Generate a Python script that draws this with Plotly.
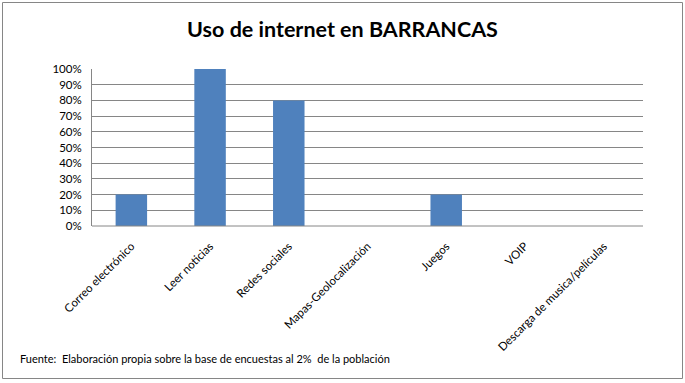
import plotly.graph_objects as go

categories = ["Correo electrónico", "Leer noticias", "Redes sociales", "Mapas-Geolocalización",
              "Juegos", "VOIP", "Descarga de musica/películas"]
values = [0.2, 1.0, 0.8, 0, 0.2, 0, 0]
tick_vals = [0, 0.1, 0.2, 0.3, 0.4, 0.5, 0.6, 0.7, 0.8, 0.9, 1.0]
tick_text = ["0%", "10%", "20%", "30%", "40%", "50%", "60%", "70%", "80%", "90%", "100%"]

W, H = 685, 383
L, R, T, B = 92, 643, 69, 226

fig = go.Figure(go.Bar(x=categories, y=values, marker=dict(color="#4F81BD", line=dict(width=0))))

def px(x):
    return (x - L) / (R - L)

def py(y):
    return (B - y) / (B - T)

fig.update_layout(
    width=W, height=H,
    margin=dict(l=L, r=W - R, t=T, b=H - B),
    paper_bgcolor="white", plot_bgcolor="white",
    font=dict(family="Lato, sans-serif", size=11.5, color="black"),
    bargap=0.6,
    showlegend=False,
    title=dict(text="<b>Uso de internet en BARRANCAS</b>", x=0.5, xanchor="center",
               y=1 - 29 / H, yanchor="middle",
               font=dict(family="Lato, sans-serif", size=21.5, color="black")),
    xaxis=dict(showgrid=False, showline=False, tickangle=-45, ticks="outside", ticklen=8,
               tickcolor="rgba(0,0,0,0)",
               tickfont=dict(size=11.5), automargin=False),
    yaxis=dict(range=[0, 1], tickvals=tick_vals, ticktext=tick_text, showgrid=True,
               gridcolor="#868686", gridwidth=1, showline=True, linecolor="#868686",
               linewidth=1, ticks="outside", ticklen=7, tickcolor="rgba(0,0,0,0)",
               zeroline=False, tickfont=dict(size=11.5), automargin=False),
    shapes=[
        dict(type="rect", xref="paper", yref="paper", x0=px(2.5), x1=px(682.5), y0=py(378.5), y1=py(2.5),
             line=dict(color="#868686", width=1), layer="below"),
        dict(type="line", xref="paper", yref="paper", x0=0, x1=1, y0=0, y1=0,
             line=dict(color="#868686", width=1)),
    ],
    annotations=[
        dict(text="Fuente:  Elaboración propia sobre la base de encuestas al 2%  de la población",
             xref="paper", yref="paper", x=px(18), y=py(358), xanchor="left", yanchor="middle",
             showarrow=False, font=dict(size=11, color="black")),
    ],
)

fig.write_html("out.html", config={"displayModeBar": False},
               post_script="document.body.style.margin='0px';")
